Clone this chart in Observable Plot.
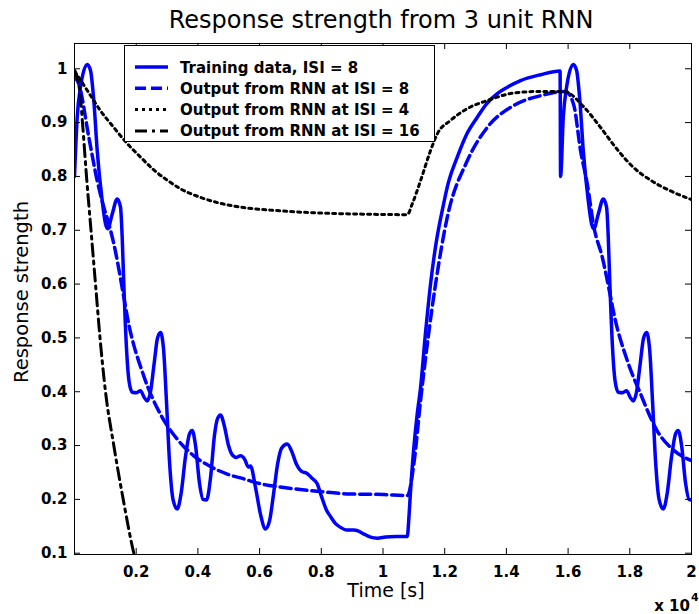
<!DOCTYPE html>
<html><head><meta charset="utf-8">
<script src="https://cdn.jsdelivr.net/npm/d3@7"></script>
<script src="https://cdn.jsdelivr.net/npm/@observablehq/plot@0.6"></script>
<style>
body{margin:0;background:#fff}
svg{display:block}
</style>
</head><body><div id="chart"></div>
<script>
// ---------- data (time in samples, x 10^4 on axis) ----------
const trainX = [0,88,195,412,519,626,736,898,1005,1080,1222,1384,1491,1546,1598,1686,1767,1871,2010,2140,2253,2357,2464,2577,2691,2788,2885,2983,3080,3193,3330,3453,3599,3729,3816,3923,4052,4166,4279,4409,4539,4636,4733,4863,4993,5123,5252,5382,5511,5641,5706,5868,6030,6192,6322,6452,6582,6711,6896,7036,7198,7360,7546,7685,7868,8008,8170,8300,8462,8624,8818,9045,9207,9369,9596,9823,10083,10407,10786,10844,10893,10990,11110,11217,11379,11541,11704,11921,12125,12407,12709,13056,13357,13704,14070,14459,15108,15740,15756,15844,15951,16168,16275,16382,16492,16654,16761,16836,16978,17140,17247,17302,17354,17442,17523,17627,17766,17896,18009,18113,18220,18333,18447,18544,18641,18739,18836,18949,19086,19209,19355,19485,19572,19679,19808,19922,20000];
const trainY = [0.80,0.91,0.966,1.008,0.997,0.941,0.848,0.755,0.712,0.703,0.73,0.758,0.743,0.687,0.600,0.48,0.42,0.399,0.398,0.402,0.39,0.383,0.40,0.45,0.50,0.51,0.48,0.38,0.27,0.20,0.182,0.21,0.28,0.322,0.328,0.30,0.23,0.20,0.199,0.24,0.32,0.35,0.357,0.335,0.30,0.282,0.278,0.281,0.275,0.26,0.262,0.222,0.172,0.145,0.16,0.21,0.265,0.295,0.303,0.29,0.265,0.252,0.248,0.24,0.229,0.205,0.18,0.168,0.155,0.148,0.143,0.143,0.141,0.136,0.130,0.128,0.130,0.131,0.131,0.17,0.216,0.29,0.359,0.407,0.51,0.600,0.67,0.737,0.79,0.836,0.878,0.910,0.935,0.954,0.967,0.978,0.989,0.996,0.80,0.91,0.966,1.008,0.997,0.941,0.848,0.755,0.712,0.703,0.73,0.758,0.743,0.687,0.600,0.48,0.42,0.399,0.398,0.402,0.39,0.383,0.40,0.45,0.50,0.51,0.48,0.38,0.27,0.20,0.182,0.21,0.28,0.322,0.328,0.30,0.23,0.20,0.199];

const rnn8X = [0,139,464,736,950,1112,1274,1598,1709,2247,2788,3330,3868,4409,4951,5489,6030,6786,7868,8948,10028,10786,11000,11217,11704,12083,12731,13380,14242,15108,15918,16187,16404,16622,16836,17108,17377,17484,17918,18349,18891,19430,20000];
const rnn8Y = [0.985,0.972,0.873,0.792,0.743,0.712,0.675,0.576,0.540,0.429,0.358,0.312,0.281,0.261,0.247,0.238,0.229,0.222,0.215,0.210,0.209,0.207,0.266,0.383,0.600,0.724,0.829,0.891,0.932,0.950,0.958,0.932,0.848,0.786,0.706,0.650,0.576,0.545,0.458,0.396,0.327,0.291,0.272];

const rnn4X = [0,88,412,843,1274,1709,2140,2571,3005,3437,4085,4733,5382,6679,7975,9272,10786,10948,11217,11541,11759,12190,12731,13380,14242,15108,15863,16512,17053,17594,18133,18674,19322,20000];
const rnn4Y = [0.995,0.988,0.960,0.922,0.891,0.861,0.836,0.812,0.793,0.777,0.761,0.750,0.743,0.736,0.732,0.730,0.729,0.749,0.792,0.848,0.879,0.904,0.926,0.941,0.955,0.958,0.958,0.929,0.891,0.850,0.816,0.793,0.773,0.757];

const rnn16X = [0,32,195,259,389,535,681,827,1005,1274,1579,1923,1990];
const rnn16Y = [0.997,0.994,0.945,0.900,0.800,0.700,0.600,0.500,0.400,0.300,0.200,0.100,0.085];

const seriesNames = ["Training data, ISI = 8","Output from RNN at ISI = 8","Output from RNN at ISI = 4","Output from RNN at ISI = 16"];

const xTicks = [2000,4000,6000,8000,10000,12000,14000,16000,18000,20000];
const xTickLabels = ["0.2","0.4","0.6","0.8","1","1.2","1.4","1.6","1.8","2"];
const yTicks = [0.1,0.2,0.3,0.4,0.5,0.6,0.7,0.8,0.9,1];
const yTickLabels = ["0.1","0.2","0.3","0.4","0.5","0.6","0.7","0.8","0.9","1"];

const titleText = "Response strength from 3 unit RNN";
const xLabel = "Time [s]";
const yLabel = "Response strength";

// ---------- layout ----------
const W = 699, H = 614, ML = 74, MR = 8, MT = 43, MB = 60;
const fw = W - ML - MR, fh = H - MT - MB;
const pts = (xs, ys) => xs.map((x, i) => ({x, y: ys[i]}));

const styles = [
  {stroke: "#0000ff", strokeWidth: 3.5, strokeDasharray: null},
  {stroke: "#0000ff", strokeWidth: 3.5, strokeDasharray: "11,5"},
  {stroke: "#000000", strokeWidth: 3, strokeDasharray: "3,4"},
  {stroke: "#000000", strokeWidth: 3, strokeDasharray: "12,5,3,5"}
];
const series = [pts(trainX, trainY), pts(rnn8X, rnn8Y), pts(rnn4X, rnn4Y), pts(rnn16X, rnn16Y)];

const plot = Plot.plot({
  width: W, height: H,
  marginLeft: ML, marginRight: MR, marginTop: MT, marginBottom: MB,
  style: {fontFamily: "DejaVu Sans", background: "white", overflow: "visible"},
  x: {domain: [0, 20000]},
  y: {domain: [0.0976, 1.047]},
  marks: [
    ...series.map((d, i) => Plot.line(d, {
      x: "x", y: "y", stroke: styles[i].stroke, strokeWidth: styles[i].strokeWidth,
      strokeDasharray: styles[i].strokeDasharray || undefined,
      curve: "monotone-x", clip: true
    })),
    Plot.frame({stroke: "black", strokeWidth: 1}),
    Plot.tickX(xTicks, {x: d => d, insetTop: fh - 6, stroke: "black"}),
    Plot.tickX(xTicks, {x: d => d, insetBottom: fh - 6, stroke: "black"}),
    Plot.tickY(yTicks, {y: d => d, insetRight: fw - 6, stroke: "black"}),
    Plot.tickY(yTicks, {y: d => d, insetLeft: fw - 6, stroke: "black"}),
    Plot.axisX({ticks: xTicks, tickFormat: d => xTickLabels[xTicks.indexOf(d)], tickSize: 0, tickPadding: 12,
      fontWeight: "bold", fontSize: 15, label: null}),
    Plot.axisY({ticks: yTicks, tickFormat: d => yTickLabels[yTicks.indexOf(d)], tickSize: 0, tickPadding: 7,
      fontWeight: "bold", fontSize: 15, label: null})
  ]
});

const svg = d3.select(plot);
const txt = (x, y, s, size, weight, anchor) => svg.append("text")
  .attr("x", x).attr("y", y).attr("text-anchor", anchor)
  .attr("font-family", "DejaVu Sans").attr("font-size", size).attr("font-weight", weight)
  .attr("fill", "black").text(s);
// title
txt(381, 28, titleText, 24, "normal", "middle");
// axis labels
txt(386, 597, xLabel, 19, "normal", "middle");
svg.append("text").attr("transform", "translate(28,292) rotate(-90)").attr("text-anchor", "middle")
  .attr("font-family", "DejaVu Sans").attr("font-size", 19.5).attr("fill", "black").text(yLabel);
// exponent
txt(690, 611, "x 10", 15, "bold", "end");
txt(691, 601, "4", 11, "bold", "start");

// legend
const lg = svg.append("g");
lg.append("rect").attr("x", 124.5).attr("y", 45.5).attr("width", 310).attr("height", 96)
  .attr("fill", "white").attr("stroke", "black").attr("stroke-width", 1);
const rows = [67, 88.3, 109.6, 130.9];
seriesNames.forEach((name, i) => {
  const s = styles[i];
  lg.append("line").attr("x1", 135).attr("x2", 168).attr("y1", rows[i]).attr("y2", rows[i])
    .attr("fill", "none").attr("stroke", s.stroke).attr("stroke-width", s.strokeWidth)
    .attr("stroke-dasharray", s.strokeDasharray);
  lg.append("text").attr("x", 180).attr("y", rows[i] + 5.5).attr("text-anchor", "start")
    .attr("font-family", "DejaVu Sans").attr("font-weight", "bold").attr("font-size", 15)
    .attr("fill", "black").text(name);
});

document.getElementById("chart").appendChild(plot);
</script>
</body></html>
